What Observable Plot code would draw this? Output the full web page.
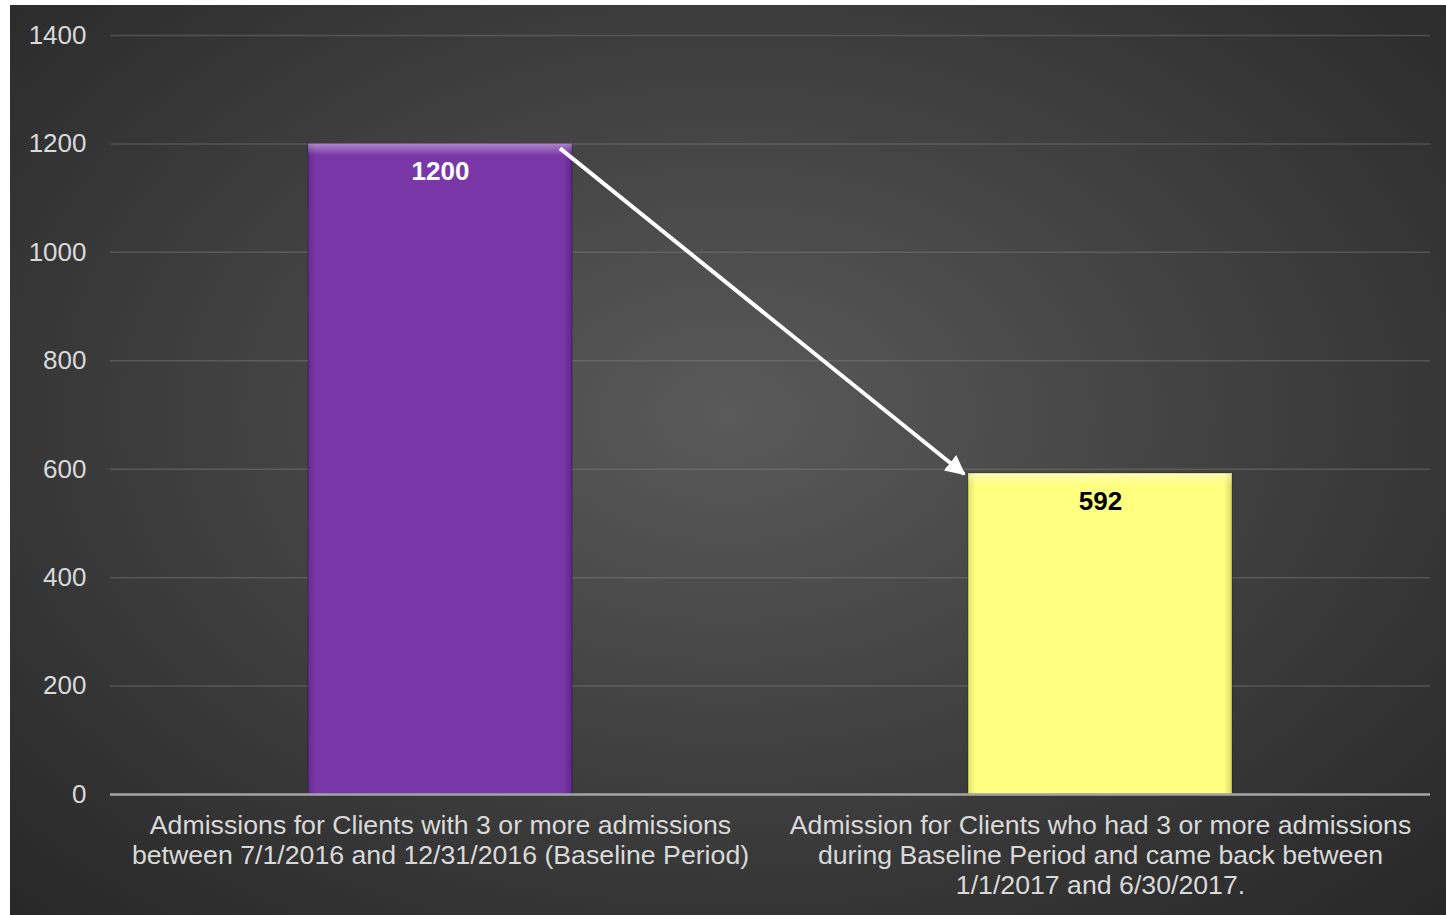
<!DOCTYPE html>
<html>
<head>
<meta charset="utf-8">
<script src="https://cdn.jsdelivr.net/npm/d3@7"></script>
<script src="https://cdn.jsdelivr.net/npm/@observablehq/plot@0.6"></script>
<style>
  html, body { margin: 0; padding: 0; background: #fff; }
  #chart { position: absolute; left: 10px; top: 5px; }
</style>
</head>
<body>
<div id="chart"></div>
<script>
const categories = [
  "Admissions for Clients with 3 or more admissions\nbetween 7/1/2016 and 12/31/2016 (Baseline Period)",
  "Admission for Clients who had 3 or more admissions\nduring Baseline Period and came back between\n1/1/2017 and 6/30/2017."
];
const values = [1200, 592];
const barColors = ["url(#gradPurple)", "url(#gradYellow)"];
const labelColors = ["#ffffff", "#000000"];
const yTicks = [0, 200, 400, 600, 800, 1000, 1200, 1400];

const data = categories.map((c, i) => ({category: c, value: values[i], fill: barColors[i], labelColor: labelColors[i]}));

const defs = () => {
  const svg = d3.create("svg:g");
  const d = svg.append("defs");
  const gp = d.append("linearGradient").attr("id", "gradPurple").attr("x1", 0).attr("x2", 1).attr("y1", 0).attr("y2", 0);
  gp.append("stop").attr("offset", "0%").attr("stop-color", "#642a90");
  gp.append("stop").attr("offset", "3%").attr("stop-color", "#7a37a8");
  gp.append("stop").attr("offset", "97%").attr("stop-color", "#7a37a8");
  gp.append("stop").attr("offset", "100%").attr("stop-color", "#5e2688");
  const gy = d.append("linearGradient").attr("id", "gradYellow").attr("x1", 0).attr("x2", 1).attr("y1", 0).attr("y2", 0);
  gy.append("stop").attr("offset", "0%").attr("stop-color", "#e4e46c");
  gy.append("stop").attr("offset", "3%").attr("stop-color", "#ffff80");
  gy.append("stop").attr("offset", "97%").attr("stop-color", "#ffff80");
  gy.append("stop").attr("offset", "100%").attr("stop-color", "#d8d860");
  const gh = d.append("linearGradient").attr("id", "gradHi").attr("x1", 0).attr("x2", 0).attr("y1", 0).attr("y2", 1);
  gh.append("stop").attr("offset", "0%").attr("stop-color", "#ffffff").attr("stop-opacity", 0.4);
  gh.append("stop").attr("offset", "100%").attr("stop-color", "#ffffff").attr("stop-opacity", 0);
  const m = d.append("marker").attr("id", "arrowHead").attr("viewBox", "0 0 10 10")
    .attr("refX", 9).attr("refY", 5).attr("markerWidth", 5).attr("markerHeight", 5)
    .attr("orient", "auto").attr("markerUnits", "strokeWidth");
  m.append("path").attr("d", "M0,0L10,5L0,10z").attr("fill", "#ffffff");
  return svg.node();
};

const arrowMark = (index, scales) => {
  const {x, y} = scales;
  const bw = x.bandwidth();
  const x1 = x(categories[0]) + bw - 12;
  const y1 = y(values[0]) + 5;
  const x2 = x(categories[1]) - 4;
  const y2 = y(values[1]) + 1;
  const g = d3.create("svg:g");
  g.append("line").attr("x1", x1).attr("y1", y1).attr("x2", x2).attr("y2", y2)
    .attr("stroke", "#ffffff").attr("stroke-width", 4).attr("marker-end", "url(#arrowHead)");
  return g.node();
};

const chart = Plot.plot({
  width: 1436,
  height: 910,
  marginLeft: 100,
  marginRight: 16,
  marginTop: 30,
  marginBottom: 121,
  style: {
    background: "radial-gradient(ellipse 75% 80% at 50% 45%, #5a5a5a 0%, #444444 40%, #303030 78%, #262626 100%)",
    fontFamily: "'Liberation Sans', Arial, sans-serif",
    color: "#d9d9d9",
    overflow: "visible"
  },
  x: {domain: categories, paddingInner: 0.6, paddingOuter: 0.3, label: null},
  y: {domain: [0, 1400], label: null},
  marks: [
    defs,
    Plot.gridY(yTicks.filter(t => t > 0), {stroke: "#8c8c8c", strokeOpacity: 0.35, strokeWidth: 1.5}),
    Plot.axisY(yTicks, {tickSize: 0, tickPadding: 24, fontSize: 26, fill: "#d9d9d9", label: null, tickFormat: d => String(d)}),
    Plot.axisX({tickSize: 0, tickPadding: 18, fontSize: 26.7, lineHeight: 1.124, fill: "#d9d9d9", label: null, textAnchor: "middle"}),
    Plot.barY(data, {x: "category", y: "value", fill: "fill", stroke: "rgba(0,0,0,0.3)", strokeWidth: 1}),
    Plot.barY(data, {x: "category", y1: d => d.value, y2: d => d.value - 22, fill: "url(#gradHi)"}),
    Plot.ruleY([0], {stroke: "#a6a6a6", strokeWidth: 2.5}),
    arrowMark,
    Plot.text(data, {x: "category", y: "value", text: d => String(d.value), fill: "labelColor", fontSize: 26, fontWeight: "bold", dy: 28})
  ]
});
document.getElementById("chart").append(chart);
</script>
</body>
</html>
